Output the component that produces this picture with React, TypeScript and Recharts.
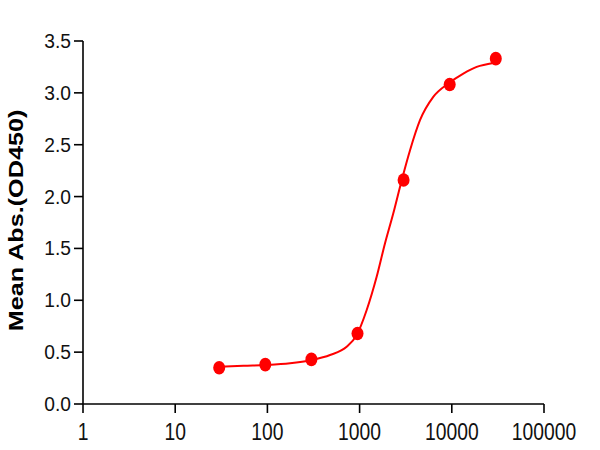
import React from 'react'
import { ComposedChart, Line, Scatter, XAxis, YAxis } from 'recharts'

// measured points (half-log dilution series)
const doseX = [30, 94.9, 300, 949, 3000, 9487, 30000]
const meanOD = [0.35, 0.38, 0.43, 0.68, 2.16, 3.08, 3.33]

// fitted curve
const curveX = [30, 55, 98, 176, 302, 478, 724, 931, 1194, 1531, 1884, 2317, 2864, 3524, 4519, 6295, 9162, 13335, 18621, 28184]
const curveY = [0.359, 0.369, 0.376, 0.392, 0.424, 0.472, 0.552, 0.665, 0.906, 1.226, 1.548, 1.837, 2.158, 2.447, 2.736, 2.961, 3.09, 3.186, 3.25, 3.288]

const xTicks = [1, 10, 100, 1000, 10000, 100000]
const yTicks = [0, 0.5, 1, 1.5, 2, 2.5, 3, 3.5]
const yTitle = 'Mean Abs.(OD450)'

const points = doseX.map((x, i) => ({ x, y: meanOD[i] }))
const curve = curveX.map((x, i) => ({ x, y: curveY[i] }))

const FONT = '"Liberation Sans", Arial, sans-serif'
const RED = '#FF0000'
const INK = '#000000'

const XTick = ({ x, y, payload }: any) => (
  <g transform={`translate(${x},${y})`}>
    <text
      transform="scale(0.84,1)"
      y={27}
      textAnchor="middle"
      fontFamily={FONT}
      fontSize={23}
      fill="#111"
    >
      {payload.value}
    </text>
  </g>
)

const YTick = ({ x, y, payload }: any) => (
  <g transform={`translate(${x - 3},${y})`}>
    <text
      transform="scale(0.96,1)"
      y={7}
      textAnchor="end"
      fontFamily={FONT}
      fontSize={20}
      fill="#111"
    >
      {Number(payload.value).toFixed(1)}
    </text>
  </g>
)

const Dot = (props: any) => {
  if (props.cx == null || props.cy == null) return null
  return <ellipse cx={props.cx} cy={props.cy} rx={6} ry={6.8} fill={RED} />
}

export default function App() {
  return (
    <div style={{ position: 'absolute', left: 0, top: 0, width: 600, height: 450, background: '#fff' }}>
      <ComposedChart width={600} height={450} margin={{ top: 41, right: 56, bottom: 0, left: 0 }}>
        <XAxis
          type="number"
          dataKey="x"
          scale="log"
          domain={[1, 100000]}
          ticks={xTicks}
          allowDataOverflow
          height={46}
          tickSize={9}
          tickMargin={0}
          stroke={INK}
          strokeWidth={1.6}
          tick={<XTick />}
          interval={0}
        />
        <YAxis
          type="number"
          dataKey="y"
          domain={[0, 3.5]}
          ticks={yTicks}
          width={83}
          tickSize={9}
          tickMargin={0}
          stroke={INK}
          strokeWidth={1.6}
          tick={<YTick />}
          interval={0}
          label={{
            content: () => (
              <text
                transform="translate(23,220.5) rotate(-90) scale(1.2,1)"
                textAnchor="middle"
                fontFamily={FONT}
                fontWeight="bold"
                fontSize={21}
                fill={INK}
              >
                {yTitle}
              </text>
            ),
          }}
        />
        <Line
          data={curve}
          dataKey="y"
          type="monotone"
          stroke={RED}
          strokeWidth={2}
          dot={false}
          activeDot={false}
          isAnimationActive={false}
        />
        <Scatter data={points} dataKey="y" fill={RED} shape={<Dot />} isAnimationActive={false} />
      </ComposedChart>
    </div>
  )
}
